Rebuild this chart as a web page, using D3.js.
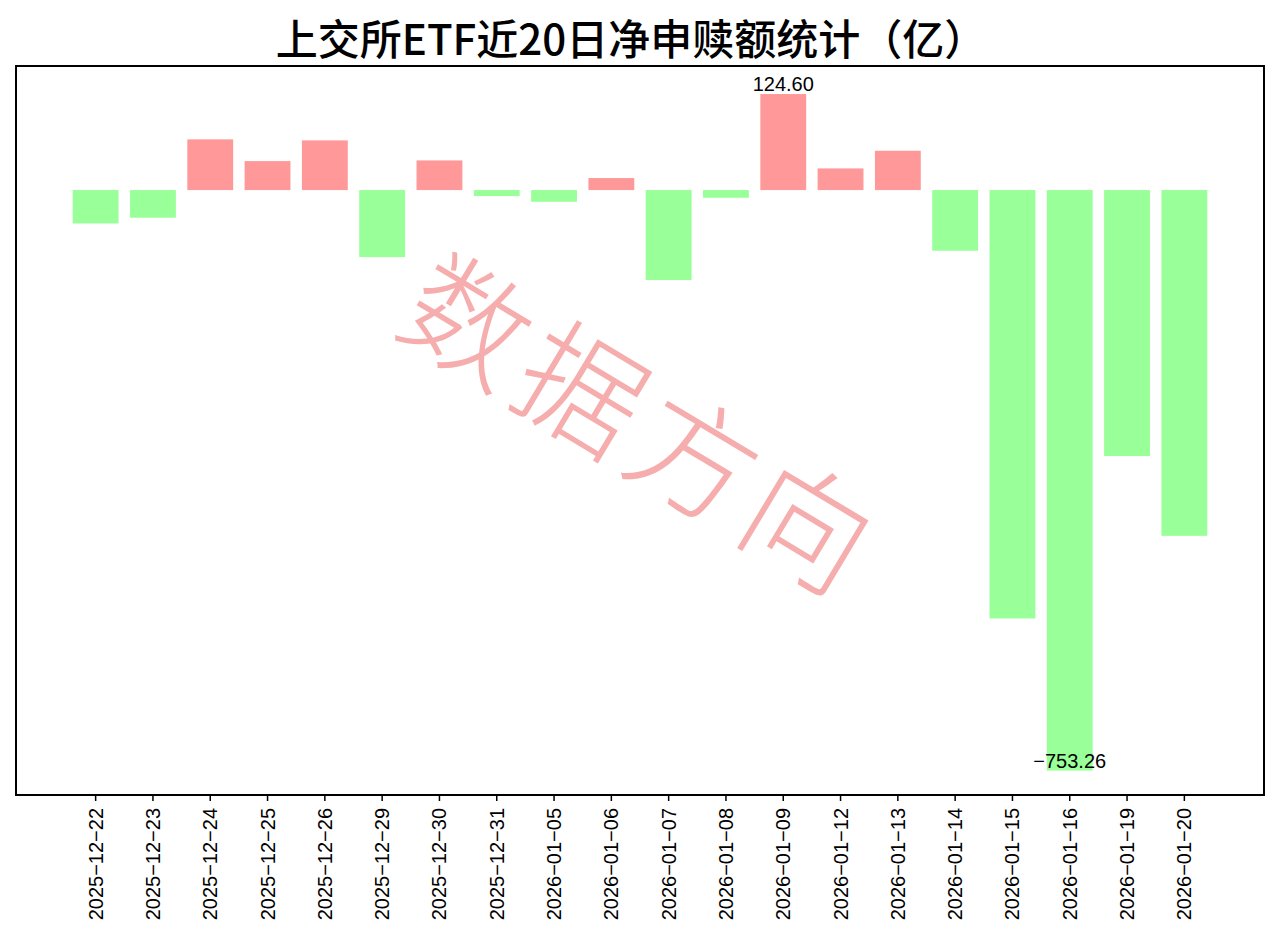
<!DOCTYPE html>
<html>
<head>
<meta charset="utf-8">
<script src="https://cdn.jsdelivr.net/npm/d3@7"></script>
<style>
  body { margin: 0; background: #fff; }
  svg { display: block; }
</style>
</head>
<body>
<svg width="1280" height="939"></svg>
<script>
var dates = ["2025-12-22","2025-12-23","2025-12-24","2025-12-25","2025-12-26","2025-12-29","2025-12-30","2025-12-31",
  "2026-01-05","2026-01-06","2026-01-07","2026-01-08","2026-01-09","2026-01-12","2026-01-13","2026-01-14",
  "2026-01-15","2026-01-16","2026-01-19","2026-01-20"];
var netFlow = [-43.3, -35.9, 65.8, 37.6, 64.5, -87.0, 38.5, -7.8,
  -15.2, 15.6, -116.8, -10.0, 124.60, 28.1, 51.0, -78.7,
  -555.9, -753.26, -345.2, -448.7];
var titleText = "上交所ETF近20日净申赎额统计（亿）";
var watermark = "数据方向";

var svg = d3.select("svg");
var plotLeft = 16, plotRight = 1264, plotTop = 66, plotBottom = 795;
var cjkFont = "'Noto Sans CJK SC', sans-serif";
var numFont = "'Liberation Sans', Arial, sans-serif";

var x = d3.scaleBand()
  .domain(dates)
  .range([plotLeft, plotRight])
  .paddingInner(0.2)
  .paddingOuter(0.99);

var y = d3.scaleLinear()
  .domain([-785, 161])
  .range([plotBottom, plotTop]);

// bars
svg.append("g")
  .selectAll("rect")
  .data(netFlow)
  .enter().append("rect")
  .attr("x", function(d, i) { return x(dates[i]); })
  .attr("width", x.bandwidth())
  .attr("y", function(d) { return y(Math.max(0, d)); })
  .attr("height", function(d) { return Math.abs(y(d) - y(0)); })
  .attr("fill", function(d) { return d >= 0 ? "#ff9999" : "#99ff99"; });

// labels on max and min
var iMax = d3.maxIndex(netFlow), iMin = d3.minIndex(netFlow);
[iMax, iMin].forEach(function(i) {
  svg.append("text")
    .attr("x", x(dates[i]) + x.bandwidth() / 2)
    .attr("y", y(netFlow[i]) - 3)
    .attr("text-anchor", "middle")
    .attr("font-family", numFont)
    .attr("font-size", 20)
    .attr("fill", "#000")
    .text(d3.format(".2f")(netFlow[i]).replace("-", "\u2212"));
});

// x axis
var xAxis = svg.append("g")
  .attr("transform", "translate(0," + plotBottom + ")")
  .call(d3.axisBottom(x).tickSize(6).tickSizeOuter(0));
xAxis.select(".domain").remove();
xAxis.selectAll(".tick line").attr("stroke", "#000").attr("stroke-width", 1.5);
xAxis.selectAll(".tick text")
  .attr("font-family", numFont)
  .attr("font-size", 20)
  .attr("fill", "#000")
  .attr("transform", "rotate(-90)")
  .attr("text-anchor", "end")
  .attr("x", -13)
  .attr("y", 0)
  .attr("dy", "0.35em")
  .text(function(d) { return d.replace(/-/g, "\u2212"); });

// frame
svg.append("rect")
  .attr("x", plotLeft).attr("y", plotTop)
  .attr("width", plotRight - plotLeft).attr("height", plotBottom - plotTop)
  .attr("fill", "none")
  .attr("stroke", "#000")
  .attr("stroke-width", 2);

// title
svg.append("text")
  .attr("x", 631)
  .attr("y", 55)
  .attr("text-anchor", "middle")
  .attr("font-family", cjkFont)
  .attr("font-size", 42)
  .attr("font-weight", 500)
  .attr("fill", "#000")
  .text(titleText);

// watermark
svg.append("text")
  .attr("transform", "translate(640,428) rotate(31)")
  .attr("text-anchor", "middle")
  .attr("dy", "0.35em")
  .attr("font-family", cjkFont)
  .attr("font-size", 124)
  .attr("font-weight", 300)
  .attr("letter-spacing", 8)
  .attr("fill", "#f49898")
  .attr("fill-opacity", 0.8)
  .text(watermark);
</script>
</body>
</html>
